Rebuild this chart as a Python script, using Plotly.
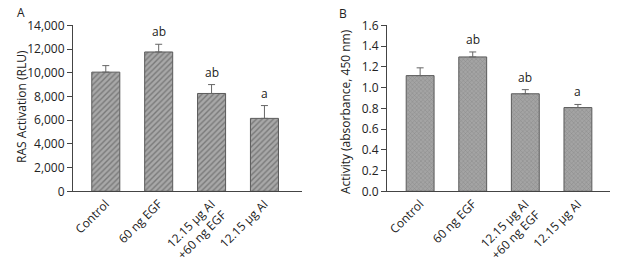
import plotly.graph_objects as go

categories = ["Control", "60 ng EGF", "12.15 μg AI<br>+60 ng EGF", "12.15 μg AI"]

ras_values = [10050, 11750, 8250, 6150]
ras_errors = [550, 650, 750, 1080]
ras_letters = ["", "ab", "ab", "a"]

act_values = [1.115, 1.295, 0.94, 0.807]
act_errors = [0.075, 0.048, 0.04, 0.03]
act_letters = ["", "ab", "ab", "a"]

ras_ticks = [0, 2000, 4000, 6000, 8000, 10000, 12000, 14000]
act_ticks = [0.0, 0.2, 0.4, 0.6, 0.8, 1.0, 1.2, 1.4, 1.6]

W, H = 621, 258
FONT = "Open Sans"
AXC = "#444444"
TXT = "#222222"

fig = go.Figure()

fig.add_trace(go.Bar(
    x=categories, y=ras_values, width=0.53,
    marker=dict(color="#9a9a9a", line=dict(color="#5a5a5a", width=1),
                pattern=dict(shape="/", size=4, solidity=0.35, fgcolor="#4a4a4a", bgcolor="#a8a8a8")),
    error_y=dict(type="data", array=ras_errors, arrayminus=[0]*4, symmetric=False,
                 color="#666666", thickness=1, width=3.5),
    xaxis="x", yaxis="y", showlegend=False,
))
fig.add_trace(go.Bar(
    x=categories, y=act_values, width=0.53,
    marker=dict(color="#999999", line=dict(color="#5a5a5a", width=1),
                pattern=dict(shape="x", size=3, solidity=0.3, fgcolor="#6e6e6e", bgcolor="#a4a4a4")),
    error_y=dict(type="data", array=act_errors, arrayminus=[0]*4, symmetric=False,
                 color="#666666", thickness=1, width=3.5),
    xaxis="x2", yaxis="y2", showlegend=False,
))

annotations = []
for c, v, e, t in zip(categories, ras_values, ras_errors, ras_letters):
    if t:
        annotations.append(dict(x=c, y=v + e, xref="x", yref="y", text=t, showarrow=False,
                                yanchor="bottom", yshift=2, font=dict(family=FONT, size=12, color=TXT)))
for c, v, e, t in zip(categories, act_values, act_errors, act_letters):
    if t:
        annotations.append(dict(x=c, y=v + e, xref="x2", yref="y2", text=t, showarrow=False,
                                yanchor="bottom", yshift=2, font=dict(family=FONT, size=12, color=TXT)))
annotations.append(dict(x=21 / W, y=1 - 13 / H, xref="paper", yref="paper", text="A", showarrow=False,
                        xanchor="center", yanchor="middle", font=dict(family=FONT, size=12, color=TXT)))
annotations.append(dict(x=343 / W, y=1 - 14 / H, xref="paper", yref="paper", text="B", showarrow=False,
                        xanchor="center", yanchor="middle", font=dict(family=FONT, size=12, color=TXT)))
# y-axis titles
annotations.append(dict(x=21 / W, y=1 - 107 / H, xref="paper", yref="paper", text="RAS Activation (RLU)",
                        textangle=-90, showarrow=False, xanchor="center", yanchor="middle",
                        font=dict(family=FONT, size=12, color=TXT)))
annotations.append(dict(x=345 / W, y=1 - 112 / H, xref="paper", yref="paper", text="Activity (absorbance, 450 nm)",
                        textangle=-90, showarrow=False, xanchor="center", yanchor="middle",
                        font=dict(family=FONT, size=12, color=TXT)))

ydom = [1 - 191.3 / H, 1 - 25.3 / H]
xcommon = dict(showline=True, linecolor=AXC, linewidth=1, ticks="", tickangle=-45, automargin=False,
               showgrid=False, zeroline=False, tickfont=dict(family=FONT, size=12, color=TXT))
ycommon = dict(showline=True, linecolor=AXC, linewidth=1, ticks="outside", ticklen=5, automargin=False,
               tickcolor=AXC, showgrid=False, zeroline=False,
               tickfont=dict(family=FONT, size=12, color=TXT))

fig.update_layout(
    width=W, height=H, margin=dict(l=0, r=0, t=0, b=0),
    paper_bgcolor="white", plot_bgcolor="white",
    font=dict(family=FONT, size=12, color=TXT),
    xaxis=dict(domain=[73 / W, 302 / W], range=[-0.62, 3.71], anchor="y", **xcommon),
    xaxis2=dict(domain=[387 / W, 610 / W], range=[-0.63, 3.61], anchor="y2", **xcommon),
    yaxis=dict(domain=ydom, range=[0, 14000], tickvals=ras_ticks, tickformat=",", anchor="x", **ycommon),
    yaxis2=dict(domain=ydom, range=[0, 1.6], tickvals=act_ticks, tickformat=".1f", anchor="x2", **ycommon),
    annotations=annotations,
    bargap=0.47,
)

fig.write_html("out.html", config={"displayModeBar": False},
               post_script="document.body.style.margin='0px';document.body.style.overflow='hidden';")
